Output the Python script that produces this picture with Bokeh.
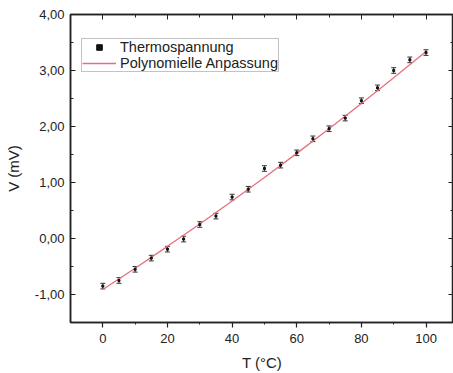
from bokeh.plotting import figure
from bokeh.models import (ColumnDataSource, Whisker, LinearAxis, FixedTicker,
                          CustomJSTickFormatter, Range1d, Legend, LegendItem)
from bokeh.embed import file_html
from bokeh.resources import INLINE

# --- data ---
temperature = [0, 5, 10, 15, 20, 25, 30, 35, 40, 45, 50,
               55, 60, 65, 70, 75, 80, 85, 90, 95, 100]
voltage = [-0.85, -0.75, -0.55, -0.35, -0.19, -0.01, 0.25, 0.40, 0.74, 0.88, 1.25,
           1.31, 1.53, 1.78, 1.96, 2.15, 2.46, 2.69, 3.00, 3.19, 3.32]
voltage_err = [0.05] * 21

fit_t = [0, 10, 20, 30, 40, 50, 60, 70, 80, 90, 100]
fit_v = [-0.91, -0.53, -0.14, 0.26, 0.67, 1.09, 1.52, 1.96, 2.41, 2.87, 3.34]

x_major = [0, 20, 40, 60, 80, 100]
x_minor = [10, 30, 50, 70, 90]
y_major = [-1, 0, 1, 2, 3, 4]
y_minor = [-1.5, -0.5, 0.5, 1.5, 2.5, 3.5]
x_end = 108.5

FONT = "Liberation Sans"
TXT = "#222222"
AX = "#222222"

src = ColumnDataSource(dict(
    t=temperature, v=voltage,
    lo=[v - e for v, e in zip(voltage, voltage_err)],
    hi=[v + e for v, e in zip(voltage, voltage_err)],
))
fit_src = ColumnDataSource(dict(t=fit_t, v=fit_v))

p = figure(width=453, height=373, output_backend="svg",
           toolbar_location=None,
           x_range=Range1d(-10, x_end), y_range=Range1d(-1.5, 4.0),
           min_border_left=70, min_border_top=14, min_border_right=0,
           min_border_bottom=48, x_axis_label="T (°C)", y_axis_label="V (mV)")
p.background_fill_color = "white"
p.border_fill_color = "white"
p.outline_line_color = AX
p.outline_line_width = 1.5
p.grid.visible = False

fit = p.line("t", "v", source=fit_src, line_color="#e4707c", line_width=1.3)

wh = Whisker(base="t", lower="lo", upper="hi", source=src,
             line_color="#333333", line_width=1)
wh.upper_head.size = 5
wh.lower_head.size = 5
wh.upper_head.line_color = "#333333"
wh.lower_head.line_color = "#333333"
p.add_layout(wh)
pts = p.scatter("t", "v", source=src, marker="square", size=2,
                fill_color="#111111", line_color="#111111")

# inward ticks on the right frame edge (clipped to the frame, half shows)
p.scatter(x=[x_end] * len(y_major), y=y_major, marker="dash", size=10,
          line_color=AX, line_width=1.2)
p.scatter(x=[x_end] * len(y_minor), y=y_minor, marker="dash", size=6,
          line_color=AX, line_width=1)

fmt = CustomJSTickFormatter(code="return tick.toFixed(2).replace('.', ',');")
blank = CustomJSTickFormatter(code="return '';")

xa = p.xaxis[0]
xa.ticker = FixedTicker(ticks=x_major, minor_ticks=x_minor)
ya = p.yaxis[0]
ya.ticker = FixedTicker(ticks=y_major, minor_ticks=y_minor)
ya.formatter = fmt

for ax in (xa, ya):
    ax.axis_line_color = AX
    ax.axis_line_width = 1.5
    ax.major_tick_line_color = AX
    ax.minor_tick_line_color = AX
    ax.major_tick_line_width = 1.2
    ax.major_label_text_font = FONT
    ax.major_label_text_font_size = "13px"
    ax.major_label_text_color = TXT
    ax.axis_label_text_font = FONT
    ax.axis_label_text_font_size = "15px"
    ax.axis_label_text_font_style = "normal"
    ax.axis_label_text_color = TXT

xa.major_tick_in = 0
xa.major_tick_out = 5
xa.minor_tick_in = 0
xa.minor_tick_out = 2
xa.major_label_standoff = 6
xa.axis_label_standoff = 8

ya.major_tick_in = 5
ya.major_tick_out = 0
ya.minor_tick_in = 3
ya.minor_tick_out = 0
ya.major_label_standoff = 6
ya.axis_label_standoff = 10

top = LinearAxis(ticker=FixedTicker(ticks=x_major, minor_ticks=x_minor),
                 formatter=blank)
top.axis_line_color = AX
top.axis_line_width = 1.5
top.major_tick_line_color = AX
top.minor_tick_line_color = AX
top.major_tick_in = 5
top.major_tick_out = 0
top.minor_tick_in = 3
top.minor_tick_out = 0
top.major_label_text_font_size = "1px"
top.major_label_standoff = 0
p.add_layout(top, "above")

legend = Legend(items=[LegendItem(label="Thermospannung", renderers=[pts]),
                       LegendItem(label="Polynomielle Anpassung", renderers=[fit])],
                location=(11, 250), orientation="vertical",
                label_text_font=FONT, label_text_font_size="14.5px",
                label_text_color=TXT, label_height=14, glyph_height=14,
                glyph_width=34, label_standoff=4, spacing=0, padding=0,
                margin=0, border_line_color="#888888", border_line_width=1,
                background_fill_alpha=1)
p.add_layout(legend)

open("out.html", "w").write(file_html(p, INLINE))
